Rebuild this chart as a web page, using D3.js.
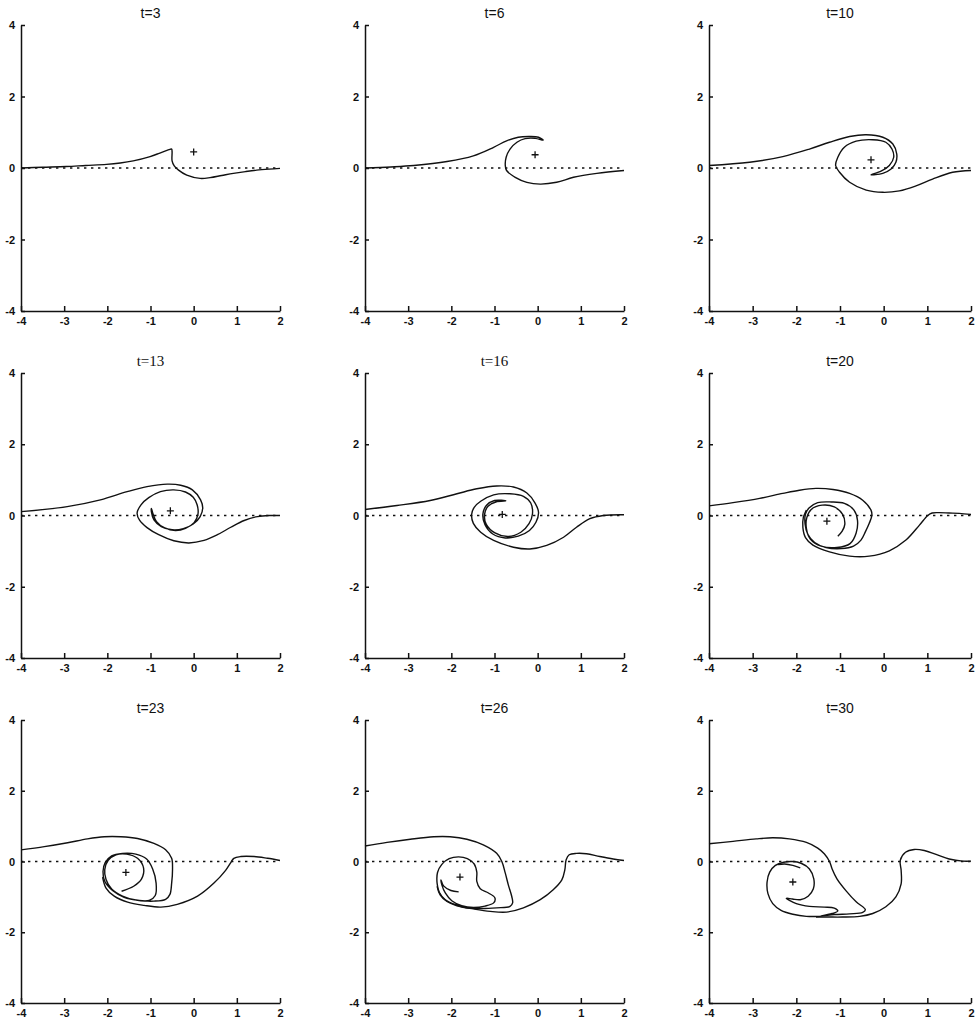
<!DOCTYPE html>
<html>
<head>
<meta charset="utf-8">
<script src="https://cdn.jsdelivr.net/npm/d3@7"></script>
<style>
  body { margin: 0; background: #fff; }
  svg { display: block; }
</style>
</head>
<body>
<div id="chart"></div>
<script>
// Page size
var width = 977;
var height = 1025;

// Grid layout (pixel edges of each plotting area)
var colLeft = [21, 365, 709];
var colWidth = [259, 259, 262];
var rowTop = [25, 373, 720];
var rowHeight = [286, 285, 283];

// Axis ticks
var xTicks = [-4, -3, -2, -1, 0, 1, 2];
var yTicks = [-4, -2, 0, 2, 4];

// Time of each panel
var times = [3, 6, 10, 13, 16, 20, 23, 26, 30];

// Vortex centre (+) for each panel
var centres = [[0, 0.45], [-0.06, 0.37], [-0.29, 0.23], [-0.54, 0.13], [-0.82, 0.03],
  [-1.30, -0.16], [-1.57, -0.31], [-1.80, -0.44], [-2.08, -0.58]];

// Sheet position per panel, each a list of curve pieces of [x, y]
var sheet3 = [[
  [-4, 0], [-3.5, 0.02], [-2.95, 0.04], [-2.5, 0.07], [-2.02, 0.1], [-1.7, 0.14], [-1.4, 0.2],
  [-1.01, 0.32], [-0.8, 0.41], [-0.65, 0.48], [-0.55, 0.52], [-0.51, 0.53], [-0.5, 0.45],
  [-0.5, 0.2], [-0.45, 0.06], [-0.35, -0.06], [-0.16, -0.2], [0.15, -0.29], [0.38, -0.27],
  [0.65, -0.21], [0.92, -0.15], [1.2, -0.1], [1.46, -0.06], [1.75, -0.03], [2, -0.01]
]];

var sheet6 = [[
  [-4, 0], [-3.4, 0.03], [-2.87, 0.07], [-2.1, 0.18], [-1.49, 0.34], [-1.02, 0.58], [-0.72, 0.76],
  [-0.45, 0.86], [-0.18, 0.88], [0.02, 0.86], [0.13, 0.78], [-0.06, 0.83], [-0.29, 0.82],
  [-0.48, 0.72], [-0.64, 0.53], [-0.73, 0.3], [-0.75, 0.07], [-0.72, -0.07], [-0.52, -0.26],
  [-0.25, -0.4], [0.06, -0.45], [0.44, -0.4], [0.83, -0.26], [1.37, -0.15], [2, -0.07]
]];

var sheet10 = [[
  [-4, 0.07], [-3.07, 0.16], [-2.31, 0.32], [-1.7, 0.53], [-1.24, 0.72], [-0.78, 0.88], [-0.4, 0.93],
  [-0.02, 0.86], [0.21, 0.67], [0.3, 0.39], [0.28, 0.16], [0.17, -0.03], [-0.02, -0.15], [-0.29, -0.19],
  [-0.06, -0.09], [0.13, 0.07], [0.23, 0.3], [0.19, 0.53], [0.05, 0.72], [-0.25, 0.79], [-0.63, 0.75],
  [-0.9, 0.58], [-1.05, 0.3], [-1.1, 0.07], [-1.01, -0.12], [-0.78, -0.4], [-0.4, -0.62], [-0.02, -0.68],
  [0.36, -0.64], [0.74, -0.5], [1.12, -0.31], [1.58, -0.12], [2, -0.07]
]];

var sheet13 = [[
  [-4, 0.11], [-2.93, 0.25], [-2.16, 0.44], [-1.54, 0.67], [-1.08, 0.81], [-0.61, 0.88], [-0.3, 0.85],
  [-0.03, 0.72], [0.16, 0.44], [0.21, 0.21], [0.15, -0.03], [-0.01, -0.24], [-0.24, -0.37], [-0.5, -0.4],
  [-0.75, -0.31], [-0.92, -0.12], [-0.98, 0.11], [-0.98, 0.2], [-0.95, 0.08], [-0.86, -0.17],
  [-0.67, -0.35], [-0.42, -0.42], [-0.19, -0.36], [0.01, -0.2], [0.1, 0.04], [0.08, 0.3], [-0.01, 0.51],
  [-0.19, 0.66], [-0.46, 0.72], [-0.77, 0.67], [-1.04, 0.5], [-1.22, 0.3], [-1.31, 0.07], [-1.25, -0.14],
  [-1.08, -0.34], [-0.81, -0.54], [-0.46, -0.71], [-0.11, -0.77], [0.24, -0.7], [0.55, -0.54],
  [0.86, -0.33], [1.17, -0.14], [1.48, -0.03], [1.79, 0], [2, 0]
]];

var sheet16 = [[
  [-4, 0.17], [-3.26, 0.28], [-2.49, 0.42], [-1.87, 0.61], [-1.41, 0.75], [-0.95, 0.83], [-0.56, 0.8],
  [-0.25, 0.63], [-0.06, 0.35], [0.02, 0.09], [-0.04, -0.19], [-0.19, -0.42], [-0.45, -0.58],
  [-0.75, -0.63], [-1.04, -0.52], [-1.22, -0.26], [-1.27, 0.03], [-1.19, 0.28], [-1.0, 0.42],
  [-0.74, 0.41], [-0.97, 0.38], [-1.15, 0.26], [-1.23, 0.03], [-1.19, -0.25], [-0.99, -0.49],
  [-0.68, -0.59], [-0.39, -0.47], [-0.2, -0.23], [-0.12, 0.05], [-0.16, 0.35], [-0.33, 0.54],
  [-0.64, 0.61], [-1.02, 0.58], [-1.32, 0.4], [-1.47, 0.23], [-1.53, 0.03], [-1.49, -0.22],
  [-1.32, -0.47], [-1.02, -0.7], [-0.56, -0.89], [-0.18, -0.94], [0.21, -0.84], [0.6, -0.61],
  [0.9, -0.33], [1.21, -0.09], [1.52, 0], [2, 0.02]
]];

var sheet20 = [[
  [-4, 0.27], [-3.45, 0.36], [-2.84, 0.48], [-2.31, 0.62], [-1.93, 0.71], [-1.55, 0.76], [-1.16, 0.73],
  [-0.78, 0.62], [-0.48, 0.43], [-0.29, 0.15], [-0.27, 0.01], [-0.33, -0.22], [-0.42, -0.46],
  [-0.52, -0.69], [-0.69, -0.86], [-0.97, -0.93], [-1.32, -0.9], [-1.58, -0.76], [-1.74, -0.52],
  [-1.8, -0.24], [-1.79, 0.04], [-1.71, 0.21], [-1.51, 0.36], [-1.2, 0.38], [-0.9, 0.34], [-0.68, 0.15],
  [-0.6, -0.13], [-0.63, -0.49], [-0.77, -0.79], [-1.07, -0.9], [-1.43, -0.86], [-1.68, -0.66],
  [-1.77, -0.36], [-1.76, -0.06], [-1.66, 0.17], [-1.41, 0.29], [-1.13, 0.24], [-0.94, 0.03],
  [-0.89, -0.25], [-0.95, -0.44], [-1.05, -0.58]
], [
  [2, 0.03], [1.73, 0.06], [1.5, 0.07], [1.27, 0.08], [1.11, 0.07], [1.01, 0], [0.82, -0.27],
  [0.51, -0.69], [0.13, -0.99], [-0.33, -1.14], [-0.78, -1.14], [-1.24, -1.02], [-1.62, -0.83],
  [-1.79, -0.62], [-1.85, -0.34], [-1.84, -0.06], [-1.77, 0.15]
]];

var sheet23 = [[
  [-4, 0.33], [-3.46, 0.42], [-2.92, 0.53], [-2.46, 0.64], [-2.07, 0.7], [-1.69, 0.7], [-1.3, 0.65],
  [-0.92, 0.51], [-0.65, 0.33], [-0.51, 0.09], [-0.49, -0.23], [-0.51, -0.61], [-0.55, -0.93],
  [-0.65, -1.07], [-0.92, -1.12], [-1.26, -1.1], [-1.61, -1.01], [-1.88, -0.82], [-2.06, -0.56],
  [-2.1, -0.28], [-2.05, -0.03], [-1.9, 0.16], [-1.65, 0.23], [-1.34, 0.21], [-1.09, 0.07],
  [-0.95, -0.21], [-0.87, -0.61], [-0.89, -0.96], [-1.03, -1.1], [-1.34, -1.09], [-1.65, -0.98],
  [-1.9, -0.78], [-2.03, -0.51], [-2.06, -0.23], [-1.98, 0.03], [-1.8, 0.19], [-1.55, 0.21],
  [-1.3, 0.09], [-1.16, -0.19], [-1.21, -0.5], [-1.39, -0.7], [-1.67, -0.84]
], [
  [2, 0.03], [1.71, 0.09], [1.4, 0.14], [1.09, 0.14], [0.93, 0.09], [0.86, -0.03], [0.74, -0.25],
  [0.47, -0.61], [0.09, -0.98], [-0.38, -1.21], [-0.76, -1.29], [-1.15, -1.24], [-1.53, -1.15],
  [-1.84, -0.98], [-2.03, -0.75], [-2.11, -0.44]
]];

var sheet26 = [[
  [-4, 0.44], [-3.49, 0.54], [-2.95, 0.63], [-2.41, 0.7], [-2.03, 0.7], [-1.64, 0.63], [-1.26, 0.47],
  [-0.95, 0.23], [-0.83, 0], [-0.75, -0.33], [-0.68, -0.66], [-0.6, -0.99], [-0.58, -1.17],
  [-0.64, -1.27], [-0.95, -1.31], [-1.29, -1.33], [-1.64, -1.31], [-1.91, -1.22], [-2.14, -1.08],
  [-2.28, -0.87], [-2.33, -0.61], [-2.32, -0.31], [-2.22, -0.08], [-2.05, 0.08], [-1.83, 0.13],
  [-1.63, 0.08], [-1.47, -0.07], [-1.41, -0.3], [-1.41, -0.56], [-1.33, -0.77], [-1.14, -0.89],
  [-0.99, -1.03], [-1.02, -1.17], [-1.22, -1.26], [-1.49, -1.3], [-1.76, -1.25], [-1.99, -1.11],
  [-2.14, -0.89], [-2.22, -0.66], [-2.24, -0.52], [-2.18, -0.69], [-2.01, -0.82], [-1.83, -0.86]
], [
  [2, 0.03], [1.75, 0.07], [1.44, 0.14], [1.13, 0.22], [0.9, 0.23], [0.73, 0.19], [0.66, 0.05],
  [0.63, -0.23], [0.56, -0.52], [0.36, -0.8], [0.06, -1.08], [-0.33, -1.31], [-0.72, -1.43],
  [-1.1, -1.41], [-1.49, -1.34], [-1.87, -1.25], [-2.1, -1.13], [-2.26, -0.94], [-2.33, -0.7]
]];

var sheet30 = [[
  [-4, 0.5], [-3.45, 0.57], [-2.92, 0.64], [-2.54, 0.67], [-2.16, 0.64], [-1.77, 0.54], [-1.51, 0.38],
  [-1.36, 0.22], [-1.24, 0], [-1.18, -0.21], [-1.07, -0.49], [-0.86, -0.83], [-0.63, -1.14],
  [-0.42, -1.36], [-0.48, -1.44], [-0.78, -1.48], [-1.13, -1.5], [-1.47, -1.55], [-1.77, -1.55],
  [-2.08, -1.49], [-2.35, -1.38], [-2.54, -1.19], [-2.65, -0.91], [-2.67, -0.58], [-2.61, -0.3],
  [-2.48, -0.11], [-2.29, -0.02], [-2.09, 0], [-1.89, -0.05], [-1.7, -0.21], [-1.6, -0.49],
  [-1.61, -0.77], [-1.73, -0.98], [-1.91, -1.08], [-2.09, -1.06], [-2.23, -1.04], [-2.0, -1.19],
  [-1.7, -1.27], [-1.36, -1.29], [-1.13, -1.32], [-1.05, -1.4], [-1.18, -1.47], [-1.43, -1.54]
], [
  [2, 0.01], [1.81, 0.01], [1.5, 0.07], [1.2, 0.2], [0.93, 0.31], [0.7, 0.34], [0.5, 0.26], [0.38, 0.03],
  [0.4, -0.25], [0.4, -0.63], [0.28, -1.0], [0.05, -1.28], [-0.25, -1.47], [-0.55, -1.55],
  [-0.94, -1.57], [-1.28, -1.57], [-1.55, -1.57]
], [
  [-2.42, -0.09], [-2.27, -0.07], [-2.08, -0.11], [-1.91, -0.18]
]];

var sheets = [sheet3, sheet6, sheet10, sheet13, sheet16, sheet20, sheet23, sheet26, sheet30];

// Titles that were typeset in a serif face
var serifTitles = [13, 16];

var svg = d3.select("#chart")
  .append("svg")
    .attr("width", width)
    .attr("height", height);

// One panel per time
times.forEach(function(t, i) {
  var col = i % 3;
  var row = Math.floor(i / 3);
  var w = colWidth[col];
  var h = rowHeight[row];
  var serif = serifTitles.indexOf(t) >= 0;

  var x = d3.scaleLinear().domain([-4, 2]).range([0, w]);
  var y = d3.scaleLinear().domain([-4, 4]).range([h, 0]);

  var g = svg.append("g")
    .attr("transform", "translate(" + colLeft[col] + "," + rowTop[row] + ")");

  // Title
  g.append("text")
    .attr("x", w / 2)
    .attr("y", -7)
    .attr("text-anchor", "middle")
    .style("font-family", serif ? "'Liberation Serif', serif" : "'Liberation Sans', Arial, sans-serif")
    .style("font-size", serif ? "15px" : "14px")
    .style("fill", "#111")
    .text("t=" + t);

  // Dotted reference line at y=0
  g.append("line")
    .attr("x1", x(-4))
    .attr("x2", x(2))
    .attr("y1", y(0))
    .attr("y2", y(0))
    .style("stroke", "#111")
    .style("stroke-width", 1.3)
    .style("stroke-dasharray", "2.4,4.6");

  // Axes with inward ticks
  var xAxis = d3.axisBottom(x)
    .tickValues(xTicks)
    .tickSizeInner(-5)
    .tickSizeOuter(0)
    .tickPadding(6)
    .tickFormat(function(d) { return String(d); });

  var yAxis = d3.axisLeft(y)
    .tickValues(yTicks)
    .tickSizeInner(-4)
    .tickSizeOuter(0)
    .tickPadding(6)
    .tickFormat(function(d) { return String(d); });

  var gx = g.append("g")
    .attr("transform", "translate(0," + h + ")")
    .call(xAxis);

  var gy = g.append("g")
    .call(yAxis);

  [gx, gy].forEach(function(a) {
    a.selectAll("path, line")
      .style("stroke", "#111")
      .style("stroke-width", 1.5);
    a.selectAll("text")
      .style("font-family", "'Liberation Sans', Arial, sans-serif")
      .style("font-weight", "bold")
      .style("font-size", "11px")
      .style("fill", "#111");
  });

  // Sheet curves
  var line = d3.line()
    .x(function(d) { return x(d[0]); })
    .y(function(d) { return y(d[1]); })
    .curve(d3.curveCatmullRom.alpha(0.5));

  g.selectAll(".sheet")
    .data(sheets[i])
    .enter().append("path")
      .attr("class", "sheet")
      .attr("d", line)
      .style("fill", "none")
      .style("stroke", "#111")
      .style("stroke-width", 1.4)
      .style("stroke-linejoin", "round");

  // Vortex centre marker
  g.append("path")
    .attr("transform", "translate(" + x(centres[i][0]) + "," + y(centres[i][1]) + ")")
    .attr("d", d3.symbol(d3.symbolPlus, 18)())
    .style("fill", "none")
    .style("stroke", "#111")
    .style("stroke-width", 1.3);
});
</script>
</body>
</html>
